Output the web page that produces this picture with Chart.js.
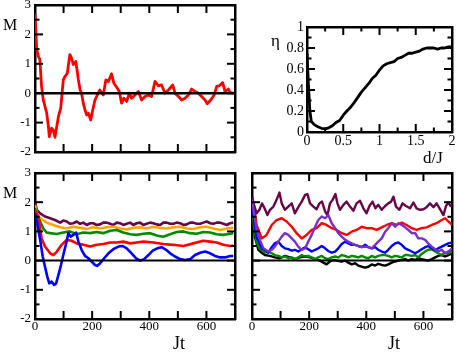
<!DOCTYPE html>
<html>
<head>
<meta charset="utf-8">
<script src="https://cdn.jsdelivr.net/npm/chart.js@4.4.1/dist/chart.umd.min.js"></script>
<style>
  body { margin: 0; background: #fff; }
  #wrap { position: relative; width: 457px; height: 352px; overflow: hidden; background: #fff; }
  canvas { position: absolute; left: 0; top: 0; }
  .lbl { position: absolute; font-family: 'Liberation Serif', serif; color: #000; line-height: 1; white-space: nowrap; }
</style>
</head>
<body>
<div id="wrap">
  <canvas id="tl" width="457" height="352"></canvas>
  <canvas id="tr" width="457" height="352"></canvas>
  <canvas id="bl" width="457" height="352"></canvas>
  <canvas id="br" width="457" height="352"></canvas>
  <div class="lbl" style="left:3px;top:17px;font-size:16px">M</div>
  <div class="lbl" style="left:3px;top:185px;font-size:16px">M</div>
  <div class="lbl" style="left:271px;top:32px;font-size:17px">η</div>
  <div class="lbl" style="left:423px;top:149px;font-size:17px">d/J</div>
  <div class="lbl" style="left:173px;top:334px;font-size:18px">Jt</div>
  <div class="lbl" style="left:388px;top:334px;font-size:18px">Jt</div>
</div>
<script>
// --- tick values and labels ---
const jtLabels = [0, 200, 400, 600];
const jtTicks = [100, 200, 300, 400, 500, 600];
const mLabels = [-2, -1, 0, 1, 2, 3];
const mTicks = [-1, 0, 1, 2];
const mMinor = [-1.5, -0.5, 0.5, 1.5, 2.5];
const dLabels = [0, 0.5, 1, 1.5, 2];
const dTicks = [0.5, 1, 1.5];
const dMinor = [0.25, 0.75, 1.25, 1.75];
const etaLabels = [0, 0.2, 0.4, 0.6, 0.8, 1];
const etaTicks = [0.2, 0.4, 0.6, 0.8];
const etaMinor = [0.1, 0.3, 0.5, 0.7, 0.9];

// --- data (Jt, M) ---
// top left: single red curve
const tlRed = [[0,2.7],[6,1.48],[12,1.25],[17,1.14],[23,0.23],[29,-0.23],[35,-0.45],[41,-0.68],[47,-1.14],[50,-1.48],[58,-1.19],[64,-1.25],[70,-1.5],[76,-1.14],[82,-0.8],[90,-0.51],[99,0.45],[105,0.57],[113,0.68],[122,1.31],[128,1.19],[134,0.97],[143,1.08],[152,0.45],[158,0.11],[163,0],[169,-0.34],[175,-0.57],[181,-0.74],[187,-0.68],[195,-0.91],[202,-0.57],[210,-0.23],[218,-0.06],[227,0.11],[239,-0.06],[248,0.45],[257,0.4],[268,0.66],[276,0.34],[286,0.2],[295,0.06],[303,-0.34],[311,-0.17],[321,-0.28],[330,0],[338,-0.17],[350,-0.06],[362,0.06],[373,-0.23],[385,-0.11],[397,-0.06],[408,-0.11],[420,0.4],[432,0.25],[443,0.28],[455,0],[467,0.11],[482,0.28],[490,0],[502,-0.11],[513,-0.23],[525,-0.17],[537,-0.06],[548,0.14],[560,0.06],[572,0],[583,-0.11],[595,-0.23],[603,-0.36],[615,-0.23],[627,-0.06],[636,0.23],[645,0.25],[657,0.36],[665,0.06],[677,0.14],[683,0.02],[694,0]];

// top right: eta vs d/J
const eta = [[0,0.75],[0.02,0.45],[0.04,0.2],[0.06,0.1],[0.1,0.07],[0.15,0.05],[0.2,0.035],[0.25,0.03],[0.3,0.04],[0.35,0.06],[0.4,0.09],[0.45,0.11],[0.5,0.16],[0.55,0.2],[0.6,0.235],[0.65,0.28],[0.7,0.33],[0.75,0.38],[0.8,0.42],[0.85,0.46],[0.9,0.51],[0.95,0.54],[1.0,0.59],[1.05,0.63],[1.1,0.65],[1.15,0.66],[1.2,0.67],[1.25,0.7],[1.3,0.71],[1.35,0.73],[1.4,0.75],[1.45,0.75],[1.5,0.76],[1.55,0.77],[1.6,0.79],[1.65,0.8],[1.7,0.8],[1.75,0.8],[1.8,0.79],[1.85,0.8],[1.9,0.8],[1.95,0.81],[2.0,0.81]];

// bottom left
const blPurple = [[0,2.02],[6,1.74],[18,1.62],[35,1.51],[53,1.45],[70,1.39],[88,1.30],[99,1.37],[111,1.34],[122,1.26],[134,1.28],[146,1.34],[158,1.26],[169,1.30],[181,1.22],[193,1.28],[204,1.28],[216,1.22],[228,1.24],[239,1.30],[251,1.30],[263,1.26],[274,1.22],[286,1.30],[298,1.28],[309,1.22],[321,1.26],[333,1.30],[344,1.22],[356,1.28],[368,1.30],[379,1.22],[391,1.26],[403,1.30],[414,1.28],[426,1.24],[438,1.22],[449,1.30],[461,1.30],[473,1.26],[484,1.26],[496,1.30],[508,1.28],[519,1.22],[531,1.24],[543,1.30],[554,1.30],[566,1.26],[578,1.26],[589,1.30],[601,1.34],[613,1.28],[624,1.26],[636,1.30],[648,1.30],[659,1.26],[671,1.22],[683,1.28],[694,1.30]];
const blOrange = [[0,1.9],[6,1.62],[18,1.45],[41,1.30],[64,1.22],[88,1.14],[111,1.10],[134,1.16],[158,1.12],[181,1.08],[204,1.14],[228,1.10],[251,1.14],[274,1.16],[298,1.10],[321,1.07],[344,1.12],[368,1.14],[391,1.10],[414,1.16],[438,1.12],[461,1.10],[484,1.14],[508,1.16],[531,1.10],[554,1.08],[578,1.14],[601,1.16],[624,1.10],[648,1.05],[671,1.10],[694,1.12]];
const blGreen = [[0,1.8],[6,1.56],[18,1.34],[29,1.10],[41,0.96],[53,0.94],[76,0.91],[99,0.96],[122,1.0],[146,0.90],[169,0.96],[193,0.94],[216,0.98],[239,0.94],[263,1.02],[286,1.05],[309,0.96],[333,0.90],[356,0.88],[379,0.92],[403,0.94],[426,0.86],[449,0.82],[473,0.90],[496,0.98],[519,1.0],[543,0.94],[566,0.92],[589,0.98],[613,0.96],[636,0.90],[659,0.88],[683,0.92],[694,0.94]];
const blRed = [[0,1.7],[12,1.5],[18,1.1],[23,0.76],[35,0.48],[53,0.25],[64,0.19],[76,0.30],[93,0.54],[111,0.71],[128,0.68],[146,0.59],[169,0.54],[193,0.48],[216,0.54],[239,0.57],[263,0.62],[286,0.62],[309,0.65],[333,0.59],[356,0.62],[379,0.65],[414,0.62],[449,0.57],[484,0.54],[519,0.50],[554,0.59],[589,0.68],[613,0.65],[636,0.62],[659,0.54],[683,0.50],[694,0.52]];
const blBlue = [[0,1.62],[8,1.28],[18,0.71],[27,0.14],[35,-0.21],[43,-0.55],[50,-0.78],[58,-0.72],[67,-0.83],[74,-0.78],[82,-0.49],[91,-0.15],[99,0.19],[109,0.59],[117,0.94],[125,0.82],[134,0.88],[144,0.96],[152,0.65],[163,0.37],[175,0.16],[187,0.08],[198,-0.03],[210,-0.15],[218,-0.18],[228,-0.09],[242,0.08],[257,0.25],[274,0.39],[292,0.48],[307,0.50],[321,0.42],[338,0.25],[354,0.08],[368,0],[382,0.05],[397,0.19],[412,0.34],[428,0.42],[443,0.46],[459,0.37],[473,0.25],[490,0.14],[508,0.05],[525,0.02],[543,0.05],[560,0.19],[578,0.27],[595,0.31],[613,0.25],[630,0.16],[648,0.11],[665,0.11],[683,0.16],[694,0.16]];

// bottom right
const brMaroon = [[0,2.19],[7,1.91],[16,1.62],[26,1.74],[35,1.96],[44,1.79],[54,1.56],[63,1.74],[75,1.85],[86,2.08],[96,2.33],[104,1.96],[115,1.74],[127,1.85],[139,1.96],[150,1.62],[162,1.83],[174,2.02],[186,2.25],[194,2.28],[203,1.96],[215,1.85],[226,1.76],[236,1.96],[245,2.02],[256,1.68],[264,1.56],[273,1.96],[282,2.08],[292,2.28],[299,1.96],[308,1.74],[320,1.91],[331,2.02],[343,1.85],[355,1.71],[366,1.96],[378,2.05],[390,1.79],[401,1.62],[411,1.87],[422,2.02],[432,1.79],[442,1.91],[454,1.74],[466,1.87],[477,1.96],[487,2.02],[495,2.19],[504,1.85],[516,1.74],[527,1.96],[539,1.87],[553,1.79],[565,1.99],[576,1.79],[588,1.74],[600,1.76],[611,1.83],[623,1.96],[635,1.83],[646,1.96],[658,1.76],[670,1.56],[679,1.87],[687,1.99],[695,1.87],[700,1.91]];
const brRed = [[5,2.02],[16,1.22],[34,0.76],[51,0.88],[69,1.22],[86,1.39],[104,1.45],[121,1.34],[139,1.16],[156,0.94],[174,0.76],[191,0.88],[209,1.05],[226,1.11],[244,1.28],[261,1.22],[279,1.11],[296,1.05],[314,0.94],[331,0.88],[349,0.99],[366,1.05],[384,1.16],[401,1.11],[419,1.11],[436,1.05],[454,1.14],[471,1.22],[489,1.28],[506,1.22],[524,1.30],[541,1.22],[559,1.11],[576,1.05],[594,1.11],[611,1.14],[629,1.22],[646,1.28],[664,1.39],[676,1.45],[687,1.34],[700,1.22]];
const brViolet = [[0,2.08],[5,1.74],[16,1.05],[28,0.71],[40,0.42],[57,0.31],[69,0.37],[80,0.48],[92,0.65],[104,0.82],[115,0.94],[127,0.88],[139,0.76],[150,0.65],[162,0.48],[174,0.37],[186,0.42],[197,0.65],[209,0.88],[221,1.16],[232,1.39],[244,1.51],[256,1.45],[267,1.56],[279,1.28],[291,1.11],[302,0.94],[314,0.82],[326,0.71],[337,0.65],[349,0.59],[361,0.54],[372,0.50],[384,0.46],[396,0.48],[407,0.46],[419,0.42],[431,0.54],[442,0.65],[454,0.76],[466,0.99],[477,1.11],[489,1.28],[501,1.16],[512,1.28],[524,1.22],[536,1.14],[547,1.05],[559,0.94],[571,0.94],[582,0.76],[594,0.76],[606,0.71],[617,0.59],[629,0.48],[641,0.39],[652,0.31],[664,0.37],[676,0.25],[687,0.31],[700,0.42]];
const brBlue = [[0,1.96],[7,1.39],[16,0.82],[26,0.59],[34,0.42],[45,0.37],[57,0.27],[69,0.46],[80,0.59],[92,0.65],[104,0.50],[115,0.42],[127,0.39],[139,0.34],[150,0.37],[162,0.31],[174,0.39],[186,0.46],[197,0.39],[209,0.31],[221,0.37],[232,0.42],[244,0.50],[256,0.42],[267,0.33],[279,0.27],[291,0.31],[302,0.42],[314,0.57],[326,0.65],[337,0.59],[349,0.54],[361,0.54],[372,0.50],[384,0.46],[396,0.54],[407,0.46],[419,0.42],[431,0.46],[442,0.37],[454,0.31],[466,0.27],[477,0.37],[489,0.50],[501,0.59],[512,0.62],[524,0.54],[536,0.42],[547,0.37],[559,0.31],[571,0.25],[582,0.31],[594,0.39],[606,0.46],[617,0.50],[629,0.42],[641,0.37],[652,0.42],[664,0.48],[676,0.54],[687,0.59],[700,0.62]];
const brGreen = [[0,2.02],[7,1.16],[16,0.65],[26,0.42],[34,0.37],[45,0.27],[57,0.31],[69,0.25],[80,0.19],[92,0.16],[104,0.11],[115,0.14],[127,0.08],[139,0.11],[150,0.05],[162,0.11],[174,0.19],[186,0.14],[197,0.16],[209,0.11],[221,0.05],[232,0.11],[244,0.16],[256,0.08],[267,0.05],[279,0.11],[291,0.14],[302,0.11],[314,0.19],[326,0.16],[337,0.11],[349,0.16],[361,0.14],[372,0.11],[384,0.16],[396,0.11],[407,0.08],[419,0.16],[431,0.11],[442,0.16],[454,0.19],[466,0.19],[477,0.16],[489,0.11],[501,0.16],[512,0.14],[524,0.11],[536,0.19],[547,0.19],[559,0.16],[571,0.19],[582,0.11],[594,0.23],[606,0.31],[617,0.37],[629,0.39],[641,0.31],[652,0.25],[664,0.19],[676,0.27],[687,0.25],[700,0.31]];
const brBlack = [[0,2.19],[10,0.82],[22,0.37],[34,0.27],[45,0.19],[63,0.16],[80,0.11],[98,0.08],[115,0.16],[133,0.11],[150,0.05],[168,0.11],[186,0.14],[203,0.11],[221,0.05],[238,0],[250,-0.07],[261,-0.13],[273,-0.03],[285,0.02],[296,0],[314,-0.03],[326,0],[337,-0.07],[349,-0.13],[361,-0.09],[372,-0.17],[384,-0.21],[396,-0.24],[407,-0.21],[419,-0.13],[431,-0.17],[442,-0.11],[454,-0.15],[466,-0.17],[477,-0.13],[489,-0.07],[501,-0.03],[512,0],[524,0.02],[536,0.05],[547,0],[559,0.05],[571,0.02],[582,0.08],[594,0.05],[606,0.02],[617,0],[629,0.05],[641,0.11],[652,0.16],[664,0.19],[676,0.14],[687,0.19],[700,0.25]];

const serif = "'Liberation Serif', serif";
const pts = arr => arr.map(p => ({ x: p[0], y: p[1] }));

function series(arr, color, width, order) {
    return {
        data: pts(arr),
        borderColor: color,
        borderWidth: width,
        pointRadius: 0,
        tension: 0,
        fill: false,
        borderJoinStyle: 'round',
        order: order
    };
}

// inward tick marks on all four sides, placed through the chart's x/y scales
function frameTicks(xMaj, xMin, yMaj, yMin) {
    return {
        id: 'frameTicks',
        afterDraw(chart) {
            const ctx = chart.ctx;
            const a = chart.chartArea;
            const xs = chart.scales.x, ys = chart.scales.y;
            const w = 2;
            ctx.save();
            ctx.globalAlpha = 1;
            ctx.globalCompositeOperation = 'source-over';
            ctx.fillStyle = '#000';
            const hTick = (v, len) => {
                const p = ys.getPixelForValue(v);
                ctx.fillRect(a.left, p - w / 2, len, w);
                ctx.fillRect(a.right - len, p - w / 2, len, w);
            };
            const vTick = (v, len) => {
                const p = xs.getPixelForValue(v);
                ctx.fillRect(p - w / 2, a.top, w, len);
                ctx.fillRect(p - w / 2, a.bottom - len, w, len);
            };
            yMaj.forEach(v => hTick(v, 8));
            yMin.forEach(v => hTick(v, 4.5));
            xMaj.forEach(v => vTick(v, 8));
            xMin.forEach(v => vTick(v, 4.5));
            ctx.restore();
        }
    };
}

// one axis on an edge of the plot; size = room it takes outside the plot
function axis(position, min, max, step, labels, size, fontSize, pad) {
    return {
        type: 'linear',
        position: position,
        min: min,
        max: max,
        afterFit: s => {
            if (s.isHorizontal()) s.height = size; else s.width = size;
            s.paddingTop = s.paddingBottom = s.paddingLeft = s.paddingRight = 0;
        },
        grid: { display: false, drawTicks: false },
        border: { display: true, width: 2.5, color: '#000' },
        ticks: {
            stepSize: step,
            autoSkip: false,
            maxRotation: 0,
            display: !!labels,
            padding: pad || 0,
            color: '#000',
            font: { family: serif, size: fontSize || 13 },
            callback: v => {
                if (!labels) return '';
                const hit = labels.find(l => Math.abs(l - v) < 1e-6);
                return hit === undefined ? '' : String(hit);
            }
        }
    };
}

function panel(id, box, xr, yr, datasets, xLabels, yLabels, fs, xPad, yPad, ticks) {
    const [xmin, xmax, xStep] = xr;
    const [ymin, ymax, yStep] = yr;
    return new Chart(document.getElementById(id), {
        type: 'line',
        data: { datasets: datasets },
        options: {
            responsive: false,
            animation: false,
            layout: { autoPadding: false, padding: { left: 0, top: box[1], right: 457 - box[2], bottom: 0 } },
            plugins: { legend: { display: false }, tooltip: { enabled: false } },
            scales: {
                x: axis('bottom', xmin, xmax, xStep, xLabels, 352 - box[3], fs, xPad),
                xTop: axis('top', xmin, xmax, xStep, null, 0, fs, 0),
                y: axis('left', ymin, ymax, yStep, yLabels, box[0], fs, yPad),
                yRight: axis('right', ymin, ymax, yStep, null, 0, fs, 0)
            }
        },
        plugins: [ticks]
    });
}

const zeroLine = w => series([[0, 0], [700, 0]], '#000', w, 0);

panel('tl', [35, 5, 235, 152], [0, 700, 100], [-2, 3, 1],
    [zeroLine(2.5), series(tlRed, '#ff0000', 2.8, 1)],
    null, mLabels, 13, 0, 4, frameTicks(jtTicks, [], mTicks, mMinor));

panel('tr', [307, 27, 452, 132], [0, 2, 0.5], [0, 1, 0.2],
    [series(eta, '#000', 2.8, 1)],
    dLabels, etaLabels, 14, 1, 3, frameTicks(dTicks, dMinor, etaTicks, etaMinor));

panel('bl', [35, 173, 235, 319], [0, 700, 100], [-2, 3, 1],
    [zeroLine(2),
     series(blBlue, '#0000ff', 2.6, 1),
     series(blRed, '#ff0000', 2.6, 2),
     series(blGreen, '#008b00', 2.6, 3),
     series(blOrange, '#ffa500', 2.6, 4),
     series(blPurple, '#670748', 2.6, 5)],
    jtLabels, mLabels, 13, 0, 4, frameTicks(jtTicks, [], mTicks, mMinor));

panel('br', [252, 173, 452, 319], [0, 700, 100], [-2, 3, 1],
    [zeroLine(2),
     series(brViolet, '#7a2fc8', 2.4, 1),
     series(brMaroon, '#670748', 2.4, 2),
     series(brRed, '#ff0000', 2.4, 3),
     series(brBlue, '#0000ff', 2.4, 4),
     series(brGreen, '#008b00', 2.4, 5),
     series(brBlack, '#000', 2.4, 6)],
    jtLabels, null, 13, 0, 0, frameTicks(jtTicks, [], mTicks, mMinor));
</script>
</body>
</html>
